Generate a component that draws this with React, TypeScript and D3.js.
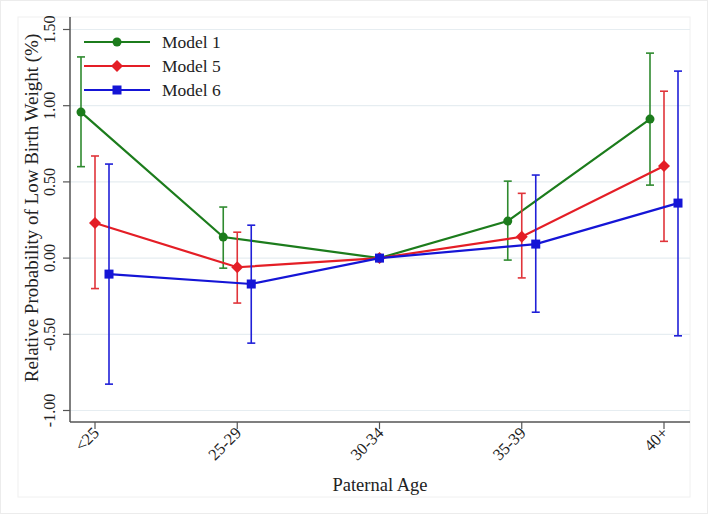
import React from "react";
import * as d3 from "d3";

const categories = ["<25", "25-29", "30-34", "35-39", "40+"];
const seriesNames = ["Model 1", "Model 5", "Model 6"];
const model1 = [0.958, 0.138, 0.0, 0.243, 0.912];
const model1Lo = [0.60, -0.066, -0.02, -0.013, 0.479];
const model1Hi = [1.32, 0.335, 0.02, 0.505, 1.345];
const model5 = [0.23, -0.06, 0.0, 0.14, 0.604];
const model5Lo = [-0.20, -0.295, -0.02, -0.13, 0.11];
const model5Hi = [0.67, 0.17, 0.02, 0.425, 1.095];
const model6 = [-0.105, -0.17, 0.0, 0.092, 0.361];
const model6Lo = [-0.827, -0.558, -0.02, -0.355, -0.51];
const model6Hi = [0.617, 0.216, 0.02, 0.545, 1.227];
const yTicks = [-1.0, -0.5, 0.0, 0.5, 1.0, 1.5];

const colors = ["#1c7c1c", "#e41e26", "#1515d6"];
const barColors = ["#2f8a2f", "#e0343a", "#2020d8"];
const offsets = [-14, 0, 14];
const catShift = [1, 1, 0, 1, 1];

const W = 708;
const H = 515;
const plotL = 70;
const plotR = 690;
const axisY = 422;
const font = "'Liberation Serif', 'Times New Roman', serif";

function Marker({ kind, x, y, color }: { kind: number; x: number; y: number; color: string }) {
  if (kind === 0) return <circle cx={x} cy={y} r={4.5} fill={color} />;
  if (kind === 1) {
    const s = 6;
    return <path d={`M${x},${y - s}L${x + s},${y}L${x},${y + s}L${x - s},${y}Z`} fill={color} />;
  }
  return <rect x={x - 4.5} y={y - 4.5} width={9} height={9} fill={color} />;
}

export default function App() {
  const x = d3.scalePoint<string>().domain(categories).range([95, 664]);
  const y = d3.scaleLinear().domain([-1, 1.5]).range([410.5, 29.5]);
  const vals = [model1, model5, model6];
  const lows = [model1Lo, model5Lo, model6Lo];
  const highs = [model1Hi, model5Hi, model6Hi];
  const px = (si: number, i: number) => x(categories[i])! + offsets[si] * catShift[i];

  return (
    <svg width={W} height={H} style={{ position: "absolute", left: 0, top: 0, background: "#fff" }} fontFamily={font}>
      <rect x={0.5} y={0.5} width={W - 1} height={H - 2} fill="#fff" stroke="#ececec" />
      <rect x={18} y={17} width={672} height={480} fill="#fff" stroke="#f0f0f0" />
      {yTicks.map((t) => (
        <g key={t}>
          <line x1={plotL} x2={plotR} y1={y(t)} y2={y(t)} stroke="#e6edf1" strokeWidth={1.2} />
          <line x1={plotL - 7} x2={plotL} y1={y(t)} y2={y(t)} stroke="#555" strokeWidth={1.2} />
          <text
            transform={`translate(${55},${y(t)}) rotate(-90)`}
            textAnchor="middle"
            fontSize={16}
            fill="#222"
          >
            {t.toFixed(2)}
          </text>
        </g>
      ))}
      <line x1={plotL} x2={plotL} y1={17} y2={axisY} stroke="#555" strokeWidth={1.5} />
      <line x1={plotL} x2={plotR} y1={axisY} y2={axisY} stroke="#555" strokeWidth={1.5} />
      {categories.map((c) => (
        <g key={c}>
          <line x1={x(c)!} x2={x(c)!} y1={axisY} y2={axisY + 7} stroke="#555" strokeWidth={1.2} />
          <text
            transform={`translate(${x(c)! + 5},${axisY + 12}) rotate(-45)`}
            textAnchor="end"
            fontSize={16.5}
            fill="#222"
          >
            {c}
          </text>
        </g>
      ))}
      <text x={380} y={491} textAnchor="middle" fontSize={18.5} fill="#222">
        Paternal Age
      </text>
      <text transform={`translate(38,${208}) rotate(-90)`} textAnchor="middle" fontSize={19} fill="#222">
        Relative Probability of Low Birth Weight (%)
      </text>
      {vals.map((v, si) => {
        const pts = v.map((d, i) => [px(si, i), y(d)] as [number, number]);
        const line = d3.line()(pts);
        return (
          <g key={si}>
            {v.map((_, i) => {
              const cx = px(si, i);
              return (
                <g key={i} stroke={barColors[si]} strokeWidth={1.6}>
                  <line x1={cx} x2={cx} y1={y(lows[si][i])} y2={y(highs[si][i])} />
                  <line x1={cx - 4} x2={cx + 4} y1={y(lows[si][i])} y2={y(lows[si][i])} />
                  <line x1={cx - 4} x2={cx + 4} y1={y(highs[si][i])} y2={y(highs[si][i])} />
                </g>
              );
            })}
            <path d={line!} fill="none" stroke={colors[si]} strokeWidth={2.2} />
            {pts.map((p, i) => (
              <Marker key={i} kind={si} x={p[0]} y={p[1]} color={colors[si]} />
            ))}
          </g>
        );
      })}
      {seriesNames.map((n, i) => {
        const ly = 42 + i * 24;
        return (
          <g key={n}>
            <line x1={84} x2={150} y1={ly} y2={ly} stroke={colors[i]} strokeWidth={2.2} />
            <Marker kind={i} x={117} y={ly} color={colors[i]} />
            <text x={162} y={ly + 6} fontSize={17.5} fill="#222">
              {n}
            </text>
          </g>
        );
      })}
    </svg>
  );
}
